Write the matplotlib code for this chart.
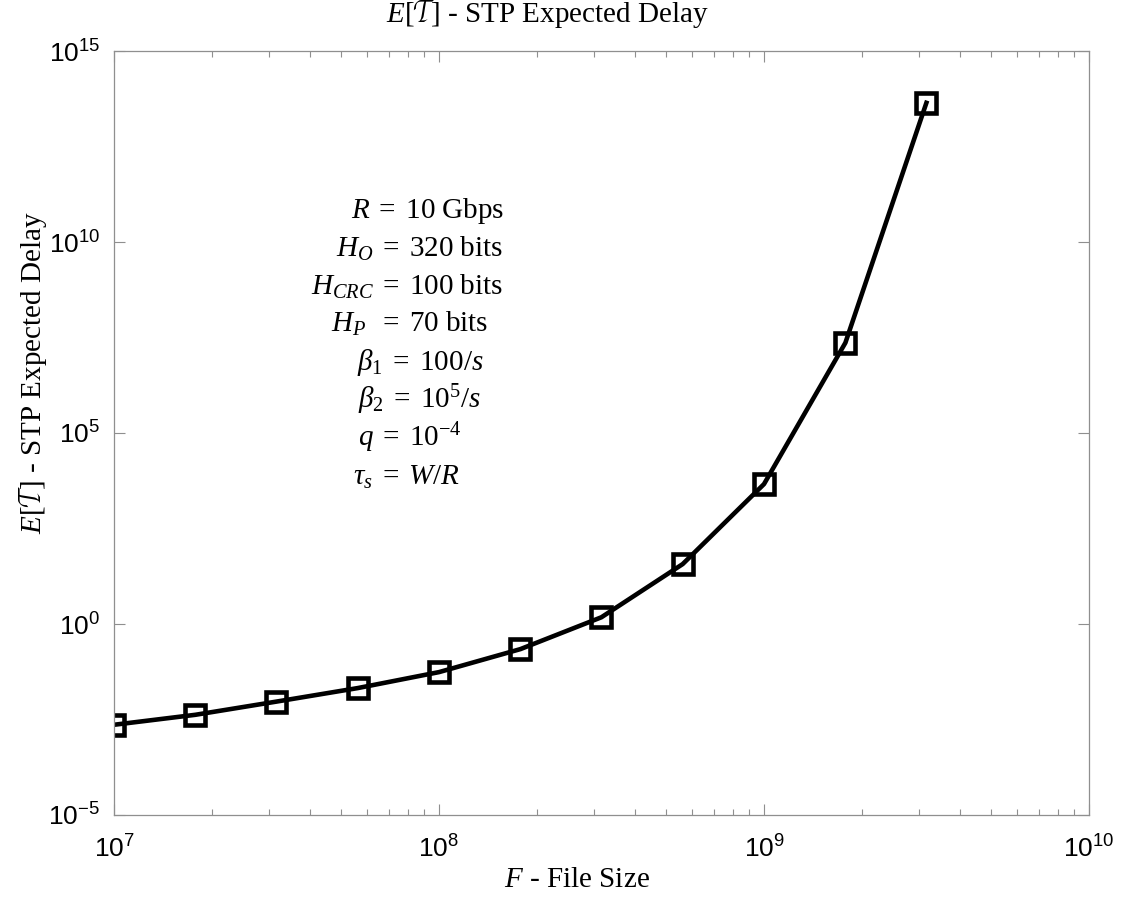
import numpy as np
import matplotlib
matplotlib.use("Agg")
import matplotlib.pyplot as plt
from matplotlib.ticker import FixedLocator, LogLocator, FuncFormatter, NullFormatter, NullLocator

# File sizes and the resulting STP expected delay
file_size = [1.0e7, 1.78e7, 3.16e7, 5.62e7, 1.0e8, 1.78e8, 3.16e8, 5.62e8, 1.0e9, 1.78e9, 3.16e9]
expected_delay = [2.3e-3, 4.2e-3, 9.3e-3, 2.1e-2, 5.5e-2, 0.22, 1.5, 37.0, 4.6e3, 2.3e7, 4.4e13]

x_major = [1e7, 1e8, 1e9, 1e10]
y_major = [1e-5, 1e0, 1e5, 1e10, 1e15]

param_lines = [
    r'$R\;=\;\mathrm{10\ Gbps}$',
    r'$H_O\;=\;\mathrm{320\ bits}$',
    r'$H_{CRC}\;=\;\mathrm{100\ bits}$',
    r'$H_P\ \;=\;\mathrm{70\ bits}$',
    r'$\beta_1\;=\;\mathrm{100/}s$',
    r'$\beta_2\;=\;\mathrm{10^5/}s$',
    r'$q\;=\;10^{-4}$',
    r'$\tau_s\;=\;W/R$',
]

plt.rcParams['mathtext.fontset'] = 'custom'
plt.rcParams['mathtext.rm'] = 'Liberation Serif'
plt.rcParams['mathtext.it'] = 'Liberation Serif:italic'
plt.rcParams['mathtext.bf'] = 'Liberation Serif:bold'
plt.rcParams['mathtext.sf'] = 'Liberation Sans'
plt.rcParams['mathtext.fallback'] = 'stix'
plt.rcParams['font.family'] = ['Liberation Serif', 'STIXGeneral']

W, H = 1125, 899
fig = plt.figure(figsize=(W / 100, H / 100), dpi=100)
ax = fig.add_axes([114 / W, 1 - 815 / H, (1089 - 114) / W, (815 - 51) / H])

ax.plot(file_size, expected_delay, color='black', lw=3.3,
        marker='s', ms=14, mfc='none', mec='black', mew=3.3)

ax.set_xscale('log')
ax.set_yscale('log')
ax.set_xlim(1e7, 1e10)
ax.set_ylim(1e-5, 1e15)

ax.xaxis.set_major_locator(FixedLocator(x_major))
ax.xaxis.set_minor_locator(LogLocator(base=10, subs=np.arange(2, 10)))
ax.xaxis.set_minor_formatter(NullFormatter())
ax.yaxis.set_major_locator(FixedLocator(y_major))
ax.yaxis.set_minor_locator(NullLocator())

sci = FuncFormatter(lambda v, p: r'$\mathsf{10^{%d}}$' % int(round(np.log10(v))))
ax.xaxis.set_major_formatter(sci)
ax.yaxis.set_major_formatter(sci)

axis_gray = '#8f8f8f'
for s in ax.spines.values():
    s.set_color(axis_gray)
    s.set_linewidth(0.9)
ax.tick_params(which='both', direction='in', top=True, right=True, color=axis_gray, width=0.8)
ax.tick_params(which='major', length=8)
ax.tick_params(which='minor', length=4.5)
ax.tick_params(axis='x', which='major', labelsize=19, pad=15)
ax.tick_params(axis='y', which='major', labelsize=19, pad=10)

serif = ['Liberation Serif', 'STIXGeneral']
fig.text(548 / W, 1 - 14 / H, r'$E[\mathcal{T}]$ - STP Expected Delay', ha='center', va='center',
         fontsize=21, family=serif)
fig.text(577 / W, 1 - 880 / H, r'$F$ - File Size', ha='center', va='center',
         fontsize=21, family=serif)
fig.text(33 / W, 1 - 372 / H, r'$E[\mathcal{T}]$ - STP Expected Delay', ha='center', va='center',
         fontsize=21, family=serif, rotation=90)

centers_x = [428, 420, 407, 410, 420, 420, 410, 407]
centers_y = [211, 249, 287, 324, 362, 400, 438, 477]
for line, cx, cy in zip(param_lines, centers_x, centers_y):
    fig.text(cx / W, 1 - cy / H, line, ha='center', va='center', fontsize=21, family=serif)

fig.savefig('out.png', dpi=100)
